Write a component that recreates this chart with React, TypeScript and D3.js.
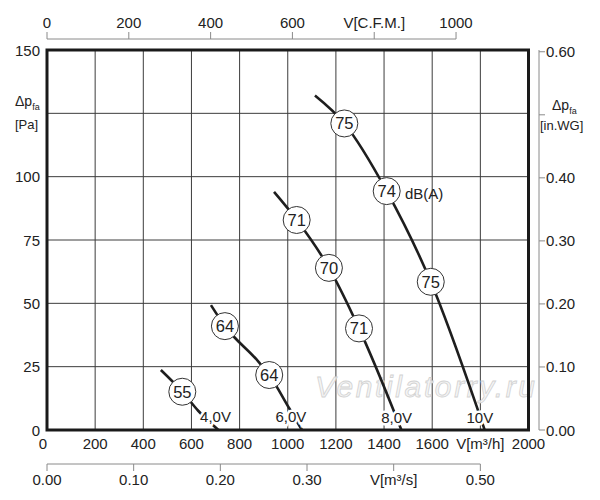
import React from 'react';
import * as d3 from 'd3';

// flow in m3/h, pressure in Pa
const curve4V = [[473, 23.7], [562, 15.1], [628, 7.6], [712, 0]];
const curve6V = [[681, 49.3], [739, 41], [878, 27], [923, 21.7], [1006, 8.6], [1059, 0]];
const curve8V = [[943, 94], [1037, 83], [1171, 64], [1296, 40.1], [1436, 8.6], [1472, 0]];
const curve10V = [[1113, 132], [1235, 121], [1411, 94.3], [1594, 58.5], [1785, 9.2], [1818, 0]];
const curves = [curve4V, curve6V, curve8V, curve10V];

const voltLabels = [
  { text: '4,0V', q: 700, p: 5.2 },
  { text: '6,0V', q: 1013, p: 5.2 },
  { text: '8,0V', q: 1452, p: 4.8 },
  { text: '10V', q: 1798, p: 4.8 },
];

const noiseMarks = [
  { db: '55', q: 562, p: 15.1 },
  { db: '64', q: 739, p: 41 },
  { db: '64', q: 923, p: 21.7 },
  { db: '71', q: 1037, p: 82.9 },
  { db: '70', q: 1171, p: 64 },
  { db: '71', q: 1296, p: 40.1 },
  { db: '75', q: 1235, p: 121 },
  { db: '74', q: 1411, p: 94.3 },
  { db: '75', q: 1594, p: 58.5 },
];

const flowTicks = [0, 200, 400, 600, 800, 1000, 1200, 1400, 1600, 1800, 2000];
const flowLabels = ['0', '200', '400', '600', '800', '1000', '1200', '1400', '1600', 'V[m³/h]', '2000'];
const pressureTicks = [0, 25, 50, 75, 100, 125, 150];
const pressureLabels = ['0', '25', '50', '75', '100', '', '150'];
const cfmTicks = [0, 200, 400, 600, 800, 1000];
const cfmLabels = ['0', '200', '400', '600', 'V[C.F.M.]', '1000'];
const m3sTicks = [0, 0.1, 0.2, 0.3, 0.4, 0.5];
const m3sLabels = ['0.00', '0.10', '0.20', '0.30', 'V[m³/s]', '0.50'];
const wgTicks = [0, 0.1, 0.2, 0.3, 0.4, 0.5, 0.6];
const wgLabels = ['0.00', '0.10', '0.20', '0.30', '0.40', '', '0.60'];

const left = 47, right = 528.5, top = 50, bottom = 430;
const font = '"Liberation Sans", Arial, sans-serif';
const axisGrey = '#8a8a8a';

const x = d3.scaleLinear().domain([0, 2000]).range([left, right]);
const y = d3.scaleLinear().domain([0, 150]).range([bottom, top]);
const xCfm = d3.scaleLinear().domain([0, 2000 / 1.699]).range([left, right]);
const xM3s = d3.scaleLinear().domain([0, 2000 / 3600]).range([left, right]);
const yWg = d3.scaleLinear().domain([0, 150 / 248.84]).range([bottom, top]);

const line = d3.line<number[]>()
  .x(d => x(d[0]))
  .y(d => y(d[1]))
  .curve(d3.curveMonotoneX);

export default function App() {
  const topAxisY = 39;
  const bottomAxisY = 464;
  const rightAxisX = 539;

  return (
    <svg width={600} height={500} style={{ position: 'absolute', left: 0, top: 0, background: '#fff' }}
      fontFamily={font}>
      {/* grid */}
      {flowTicks.slice(1, -1).map(t => (
        <line key={'gx' + t} x1={x(t)} x2={x(t)} y1={top} y2={bottom} stroke="#3c3c3c" strokeWidth={1} />
      ))}
      {pressureTicks.slice(1, -1).map(t => (
        <line key={'gy' + t} x1={left} x2={right} y1={y(t)} y2={y(t)} stroke="#3c3c3c" strokeWidth={1} />
      ))}

      {/* watermark */}
      <text x={315} y={397} fontSize={30} fontStyle="italic" textLength={220} lengthAdjust="spacing"
        fill="#f4f4f4" fillOpacity={0.85} stroke="#d2d2d2" strokeWidth={0.8}>Ventilatorry.ru</text>

      {/* curves */}
      {curves.map((c, i) => (
        <path key={'c' + i} d={line(c) || ''} fill="none" stroke="#1e1e1e" strokeWidth={2.6} />
      ))}

      {/* voltage labels with white halo */}
      {voltLabels.map(v => (
        <text key={v.text} x={x(v.q)} y={y(v.p)} fontSize={15} textAnchor="middle" dominantBaseline="central"
          fill="#222" stroke="#fff" strokeWidth={5} style={{ paintOrder: 'stroke' }}>{v.text}</text>
      ))}

      {/* frame */}
      <rect x={left} y={top} width={right - left} height={bottom - top} fill="none" stroke="#1a1a1a" strokeWidth={3} />

      {/* noise circles */}
      {noiseMarks.map((m, i) => (
        <g key={'n' + i} transform={`translate(${x(m.q)},${y(m.p)})`}>
          <circle r={13.5} fill="#fff" stroke="#333" strokeWidth={1} />
          <text fontSize={16.5} textAnchor="middle" dominantBaseline="central" fill="#222">{m.db}</text>
        </g>
      ))}
      <text x={405} y={193} fontSize={15} dominantBaseline="central" fill="#222">dB(A)</text>

      {/* left pressure labels */}
      {pressureTicks.map((t, i) => pressureLabels[i] && (
        <text key={'yl' + t} x={40} y={y(t)} fontSize={15} textAnchor="end" dominantBaseline="central" fill="#222">
          {pressureLabels[i]}
        </text>
      ))}
      <text x={15} y={106} fontSize={14} fill="#222">Δp<tspan fontSize={9} dy={4}>fa</tspan></text>
      <text x={15} y={129} fontSize={13} fill="#222">[Pa]</text>

      {/* bottom flow labels */}
      {flowTicks.map((t, i) => (
        <text key={'xl' + t} x={t === 0 ? x(t) - 4 : x(t)} y={443} fontSize={15} textAnchor="middle"
          dominantBaseline="central" fill="#222">{flowLabels[i]}</text>
      ))}

      {/* top CFM axis */}
      <line x1={xCfm(0)} x2={xCfm(1000)} y1={topAxisY} y2={topAxisY} stroke={axisGrey} strokeWidth={1} />
      {cfmTicks.map((t, i) => (
        <g key={'cfm' + t}>
          <line x1={xCfm(t)} x2={xCfm(t)} y1={topAxisY} y2={topAxisY - 7} stroke={axisGrey} strokeWidth={1} />
          <text x={xCfm(t)} y={22} fontSize={15} textAnchor="middle" dominantBaseline="central" fill="#222">
            {cfmLabels[i]}
          </text>
        </g>
      ))}

      {/* bottom m3/s axis */}
      <line x1={xM3s(0)} x2={xM3s(0.5)} y1={bottomAxisY} y2={bottomAxisY} stroke={axisGrey} strokeWidth={1} />
      {m3sTicks.map((t, i) => (
        <g key={'m3s' + t}>
          <line x1={xM3s(t)} x2={xM3s(t)} y1={bottomAxisY} y2={bottomAxisY + 7} stroke={axisGrey} strokeWidth={1} />
          <text x={xM3s(t)} y={479} fontSize={15} textAnchor="middle" dominantBaseline="central" fill="#222">
            {m3sLabels[i]}
          </text>
        </g>
      ))}

      {/* right in.WG axis */}
      <line x1={rightAxisX} x2={rightAxisX} y1={yWg(0)} y2={top} stroke={axisGrey} strokeWidth={1} />
      {wgTicks.map((t, i) => (
        <g key={'wg' + t}>
          <line x1={rightAxisX} x2={rightAxisX + 6} y1={yWg(t)} y2={yWg(t)} stroke={axisGrey} strokeWidth={1} />
          {wgLabels[i] && (
            <text x={rightAxisX + 7} y={yWg(t)} fontSize={15} dominantBaseline="central" fill="#222">{wgLabels[i]}</text>
          )}
        </g>
      ))}
      <text x={552} y={110} fontSize={14} fill="#222">Δp<tspan fontSize={9} dy={4}>fa</tspan></text>
      <text x={540} y={130} fontSize={13} fill="#222">[in.WG]</text>
    </svg>
  );
}
